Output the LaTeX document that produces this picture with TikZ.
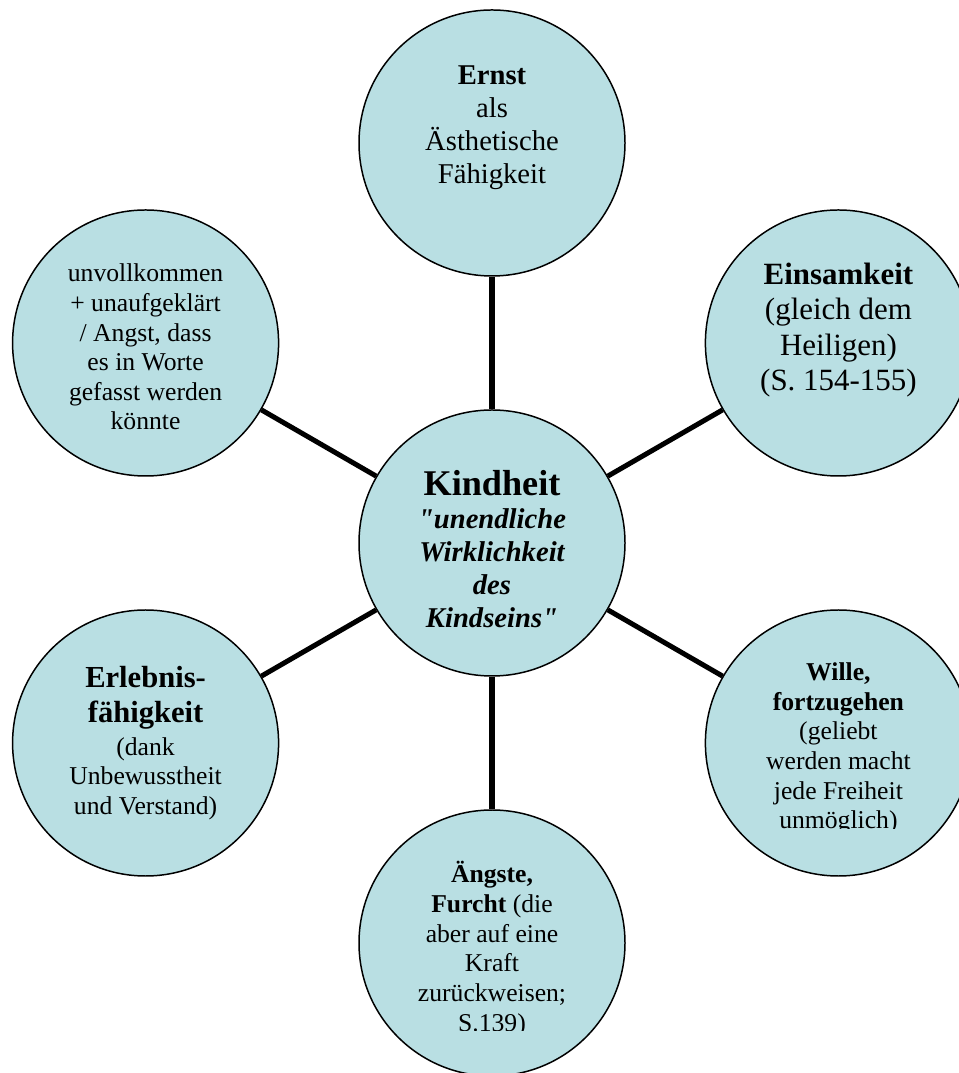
\documentclass[tikz,border=0pt]{standalone}
\usepackage{fontspec}
\setmainfont{Liberation Serif}
\definecolor{bubblefill}{RGB}{185,223,227}
\tikzset{
    bubble/.style={circle,draw=black,line width=0.85pt,fill=bubblefill,minimum size=5.32cm,inner sep=0pt},
    spoke/.style={line width=2.85pt},
    btext/.style={align=center,inner sep=0pt},
  }
\begin{document}
\begin{tikzpicture}
	          %Kindheit in der Mitte, die sechs Kreise im Abstand 8 rundherum
	          %Text jeweils als eigener Knoten, leicht verschoben
	          \useasboundingbox (-9.84,-10.6) rectangle (9.34,10.86);
	          \node[bubble](kind) at (0,0) {};
	          \node[bubble](ernst) at (90:8) {};
	          \node[bubble](einsam) at (30:8) {};
	          \node[bubble](wille) at (-30:8) {};
	          \node[bubble](angst) at (-90:8) {};
	          \node[bubble](erleb) at (-150:8) {};
	          \node[bubble](unvoll) at (150:8) {};

	          \draw[spoke] (kind) -- (ernst);
	          \draw[spoke] (kind) -- (einsam);
	          \draw[spoke] (kind) -- (wille);
	          \draw[spoke] (kind) -- (angst);
	          \draw[spoke] (kind) -- (erleb);
	          \draw[spoke] (kind) -- (unvoll);

	          \node[btext,font=\fontsize{16.3}{18.8}\selectfont\bfseries\itshape](kindT) at ([yshift=-0.12cm]kind.center)
	            {{\upshape\fontsize{20.6}{18.8}\selectfont Kindheit}\\\textquotedbl unendliche\\Wirklichkeit\\des\\Kindseins\textquotedbl};
	          \node[btext,font=\fontsize{16.3}{18.8}\selectfont](ernstT) at ([yshift=0.31cm]ernst.center)
	            {\textbf{Ernst}\\als\\Ästhetische\\Fähigkeit};
	          \node[btext,font=\fontsize{17.6}{20.2}\selectfont](einsamT) at ([yshift=0.26cm]einsam.center)
	            {\textbf{Einsamkeit}\\(gleich dem\\Heiligen)\\(S. 154-155)};
	          \node[btext,font=\fontsize{14.6}{16.8}\selectfont](unvollT) at ([yshift=-0.08cm]unvoll.center)
	            {unvollkommen\\+ unaufgeklärt\\/ Angst, dass\\es in Worte\\gefasst werden\\könnte};
	          \node[btext,font=\fontsize{14.6}{16.8}\selectfont](erlebT) at (erleb.center)
	            {{\fontsize{17.4}{20}\selectfont\bfseries Erlebnis-}\\[3.3pt]{\fontsize{17.4}{20}\selectfont\bfseries fähigkeit}\\[1.6pt](dank\\Unbewusstheit\\und Verstand)};
	          \begin{scope}
	            \clip (4,-5.70) rectangle (9.4,-2);
	            \node[btext,font=\fontsize{14.6}{16.9}\selectfont](willeT) at ([yshift=-0.11cm]wille.center)
	              {\textbf{Wille,}\\\textbf{fortzugehen}\\(geliebt\\werden macht\\jede Freiheit\\unmöglich)};
	          \end{scope}
	          \begin{scope}
	            \clip (-3,-9.74) rectangle (3,-6);
	            \node[btext,font=\fontsize{14.6}{16.9}\selectfont](angstT) at ([yshift=-0.12cm]angst.center)
	              {\textbf{Ängste,}\\\textbf{Furcht} (die\\aber auf eine\\Kraft\\zurückweisen;\\S.139)};
	          \end{scope}
\end{tikzpicture}
\end{document}
